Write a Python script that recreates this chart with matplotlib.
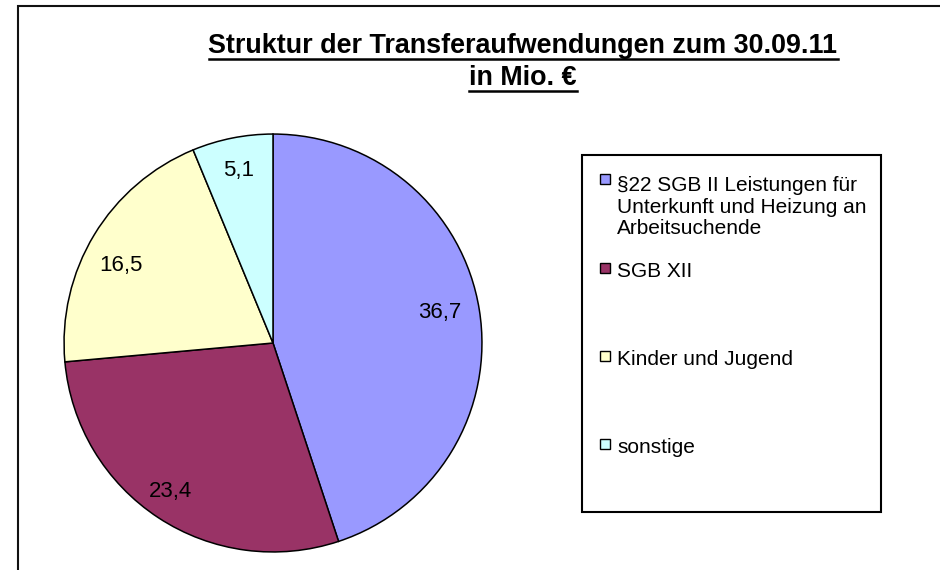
import matplotlib
matplotlib.use("Agg")
import matplotlib.pyplot as plt
from matplotlib.patches import Rectangle
from matplotlib.lines import Line2D

plt.rcParams['font.family'] = ['Liberation Sans', 'DejaVu Sans']

categories = ["§22 SGB II Leistungen für\nUnterkunft und Heizung an\nArbeitsuchende",
              "SGB XII", "Kinder und Jugend", "sonstige"]
values = [36.7, 23.4, 16.5, 5.1]
colors = ["#9999FF", "#993366", "#FFFFCC", "#CCFFFF"]
title_lines = ["Struktur der Transferaufwendungen zum 30.09.11", "in Mio. €"]

W, H = 940, 570
fig = plt.figure(figsize=(W / 100, H / 100), dpi=100)
fig.patch.set_facecolor("white")

def fx(px):
    return px / W

def fy(py):
    return 1 - py / H

# outer frame
fig.add_artist(Rectangle((fx(18), fy(578)), fx(940), 572 / H, transform=fig.transFigure,
                         fill=False, edgecolor="#111111", linewidth=1.5, zorder=0))

# pie
ax = fig.add_axes([fx(63), fy(553), 420 / W, 420 / H])
total = sum(values)
wedges, texts, autotexts = ax.pie(
    values, colors=colors, startangle=90, counterclock=False,
    wedgeprops=dict(edgecolor="black", linewidth=1.1),
    autopct=lambda p: f"{p * total / 100:.1f}".replace(".", ","),
    pctdistance=0.84, textprops=dict(fontsize=16, color="black"))
# small placement nudges of the value labels (layout only)
nudges = [(-0.033, 0.014), (-0.029, -0.01), (-0.01, -0.062), (0.0, 0.0)]
for at, (dx, dy) in zip(autotexts, nudges):
    x, y = at.get_position()
    at.set_position((x + dx, y + dy))
ax.set_xlim(-1.005, 1.005)
ax.set_ylim(-1.005, 1.005)
ax.axis("off")

# title
ty = [46, 78]
title_texts = []
for i, t in enumerate(title_lines):
    tt = fig.text(fx(523), fy(ty[i]), t, ha="center", va="center", fontsize=19.4,
                  fontweight="bold")
    title_texts.append(tt)

# legend box
fig.add_artist(Rectangle((fx(582), fy(512)), (881 - 582) / W, (512 - 155) / H,
                         transform=fig.transFigure, fill=False, edgecolor="black",
                         linewidth=1.5))
baselines = [188, 277, 365, 453]
line_step = 23
for lab, col, b in zip(categories, colors, baselines):
    fig.add_artist(Rectangle((fx(600), fy(b - 4)), 10 / W, 10 / H,
                             transform=fig.transFigure, facecolor=col,
                             edgecolor="black", linewidth=1.0))
    n = lab.count("\n")
    fig.text(fx(617), fy(b + n * line_step), lab, ha="left", va="baseline", fontsize=15,
             linespacing=1.15)

# underline the title
fig.canvas.draw()
r = fig.canvas.get_renderer()
for tt in title_texts:
    bb = tt.get_window_extent(renderer=r)
    yline = bb.y0 + 0.5
    fig.add_artist(Line2D([bb.x0 / W, bb.x1 / W], [yline / H, yline / H],
                          transform=fig.transFigure, color="black", linewidth=1.8))

fig.savefig("out.png", dpi=100)
